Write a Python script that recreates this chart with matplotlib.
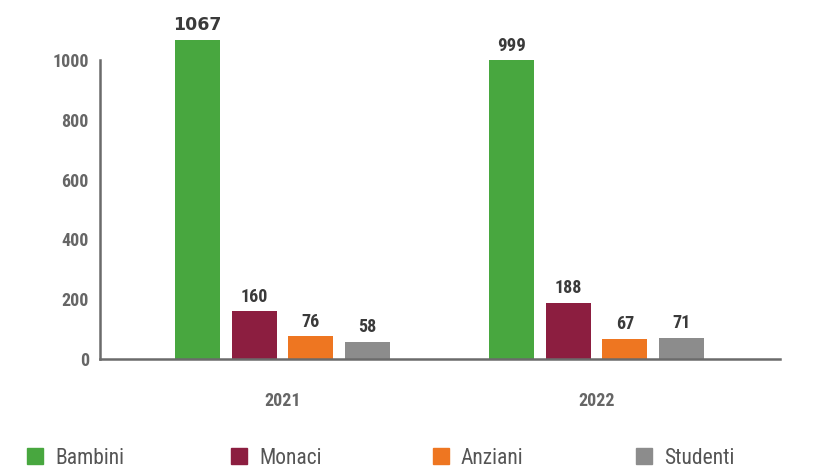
import matplotlib
matplotlib.use("Agg")
import matplotlib.pyplot as plt
from matplotlib import font_manager as fm
from matplotlib.patches import Rectangle

years = ["2021", "2022"]
series = ["Bambini", "Monaci", "Anziani", "Studenti"]
values = {
    "Bambini": [1067, 999],
    "Monaci": [160, 188],
    "Anziani": [76, 67],
    "Studenti": [58, 71],
}
yticks = [0, 200, 400, 600, 800, 1000]
colors = ["#48A73F", "#8C1E40", "#EE7621", "#8C8C8C"]


def find_narrow(bold):
    best = None
    for f in fm.fontManager.ttflist:
        nm = f.name.lower()
        fn = f.fname.lower()
        st = str(f.stretch).lower()
        cond = ("narrow" in nm or "condensed" in nm or "condensed" in fn
                or "narrow" in fn or st in ("condensed", "semi-condensed", "extra-condensed"))
        if not cond:
            continue
        if "italic" in fn or "oblique" in fn or str(f.style) != "normal":
            continue
        w = f.weight if isinstance(f.weight, int) else (700 if "bold" in str(f.weight) else 400)
        if bold and w < 600:
            continue
        if not bold and w >= 600:
            continue
        score = 0
        if "liberation" in nm:
            score = 3
        elif "roboto" in nm:
            score = 2
        elif "dejavu" in nm:
            score = 1
        if best is None or score > best[0]:
            best = (score, f.fname)
    if best:
        return fm.FontProperties(fname=best[1])
    return fm.FontProperties(family="DejaVu Sans", weight="bold" if bold else "normal")


nb = find_narrow(True)
nr = find_narrow(False)

fig = plt.figure(figsize=(8.17, 4.70), dpi=100)
ax = fig.add_axes([100 / 817, (470 - 359) / 470, 680 / 817, (359 - 20) / 470])

pitch = 0.1805
width = 0.143
for i, s in enumerate(series):
    xs = [g + (i - 1.5) * pitch for g in range(len(years))]
    ax.bar(xs, values[s], width=width, color=colors[i], zorder=2)
    for x, v in zip(xs, values[s]):
        if v > 1000:
            fp = fm.FontProperties(family="DejaVu Sans", weight="bold", size=12.5)
        else:
            fp = nb.copy()
            fp.set_size(13.5 if v >= 900 else 13)
        ax.annotate(str(v), (x, v), xytext=(0, 4), textcoords="offset points",
                    ha="center", va="bottom", fontproperties=fp, color="#3a3a3a")

ax.set_xlim(-0.581, 1.584)
ax.set_ylim(0, 1134)
ax.set_yticks(yticks)
ax.set_yticklabels([str(t) for t in yticks])
ax.set_xticks(range(len(years)))
ax.set_xticklabels(years)
for sp in ["top", "right"]:
    ax.spines[sp].set_visible(False)
ax.spines["left"].set_bounds(0, 1000)
for sp in ["left", "bottom"]:
    ax.spines[sp].set_color("#6b6b6b")
    ax.spines[sp].set_linewidth(1.8)
ax.tick_params(axis="both", length=0, colors="#6b6b6b")
ax.tick_params(axis="y", pad=8)
ax.tick_params(axis="x", pad=24)
tfp = nb.copy()
tfp.set_size(13)
for lbl in ax.get_xticklabels() + ax.get_yticklabels():
    lbl.set_fontproperties(tfp)
    lbl.set_color("#666666")

leg_x = [27, 231, 433, 636]
lfp = nr.copy()
lfp.set_size(15.5)
for i, s in enumerate(series):
    x0 = leg_x[i] / 817
    fig.patches.append(Rectangle((x0, (470 - 464) / 470), 16 / 817, 16 / 470,
                                 transform=fig.transFigure, color=colors[i], figure=fig))
    fig.text(x0 + 28 / 817, (470 - 458) / 470, s, fontproperties=lfp, color="#555555",
             va="center", ha="left")

fig.savefig("out.png", dpi=100)
